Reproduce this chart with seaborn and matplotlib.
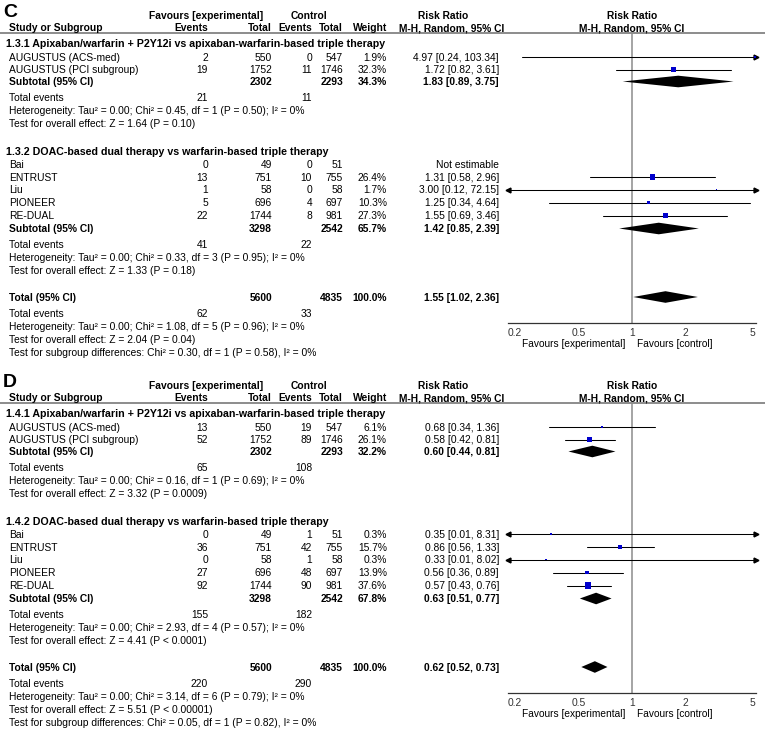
import numpy as np
import matplotlib
matplotlib.use("Agg")
import matplotlib.pyplot as plt
import seaborn as sns

# ---- data ----
studies = [["AUGUSTUS (ACS-med)", "AUGUSTUS (PCI subgroup)"],
           ["Bai", "ENTRUST", "Liu", "PIONEER", "RE-DUAL"]]

c_titles = ["1.3.1 Apixaban/warfarin + P2Y12i vs apixaban-warfarin-based triple therapy",
            "1.3.2 DOAC-based dual therapy vs warfarin-based triple therapy"]
c_exp_events = [2, 19, 0, 13, 1, 5, 22]
c_exp_total = [550, 1752, 49, 751, 58, 696, 1744]
c_ctl_events = [0, 11, 0, 10, 0, 4, 8]
c_ctl_total = [547, 1746, 51, 755, 58, 697, 981]
c_weight = [1.9, 32.3, None, 26.4, 1.7, 10.3, 27.3]
c_rr = [4.97, 1.72, None, 1.31, 3.00, 1.25, 1.55]
c_lo = [0.24, 0.82, None, 0.58, 0.12, 0.34, 0.69]
c_hi = [103.34, 3.61, None, 2.96, 72.15, 4.64, 3.46]
c_sub_exp_total = [2302, 3298]
c_sub_ctl_total = [2293, 2542]
c_sub_weight = [34.3, 65.7]
c_sub_rr = [1.83, 1.42]
c_sub_lo = [0.89, 0.85]
c_sub_hi = [3.75, 2.39]
c_sub_exp_events = [21, 41]
c_sub_ctl_events = [11, 22]
c_sub_het = ["Heterogeneity: Tau² = 0.00; Chi² = 0.45, df = 1 (P = 0.50); I² = 0%",
             "Heterogeneity: Tau² = 0.00; Chi² = 0.33, df = 3 (P = 0.95); I² = 0%"]
c_sub_z = ["Test for overall effect: Z = 1.64 (P = 0.10)",
           "Test for overall effect: Z = 1.33 (P = 0.18)"]
c_tot_n = [5600, 4835]
c_tot_events = [62, 33]
c_tot_est = [1.55, 1.02, 2.36]
c_tot_notes = ["Heterogeneity: Tau² = 0.00; Chi² = 1.08, df = 5 (P = 0.96); I² = 0%",
               "Test for overall effect: Z = 2.04 (P = 0.04)",
               "Test for subgroup differences: Chi² = 0.30, df = 1 (P = 0.58), I² = 0%"]

d_titles = ["1.4.1 Apixaban/warfarin + P2Y12i vs apixaban-warfarin-based triple therapy",
            "1.4.2 DOAC-based dual therapy vs warfarin-based triple therapy"]
d_exp_events = [13, 52, 0, 36, 0, 27, 92]
d_exp_total = [550, 1752, 49, 751, 58, 696, 1744]
d_ctl_events = [19, 89, 1, 42, 1, 48, 90]
d_ctl_total = [547, 1746, 51, 755, 58, 697, 981]
d_weight = [6.1, 26.1, 0.3, 15.7, 0.3, 13.9, 37.6]
d_rr = [0.68, 0.58, 0.35, 0.86, 0.33, 0.56, 0.57]
d_lo = [0.34, 0.42, 0.01, 0.56, 0.01, 0.36, 0.43]
d_hi = [1.36, 0.81, 8.31, 1.33, 8.02, 0.89, 0.76]
d_sub_exp_total = [2302, 3298]
d_sub_ctl_total = [2293, 2542]
d_sub_weight = [32.2, 67.8]
d_sub_rr = [0.60, 0.63]
d_sub_lo = [0.44, 0.51]
d_sub_hi = [0.81, 0.77]
d_sub_exp_events = [65, 155]
d_sub_ctl_events = [108, 182]
d_sub_het = ["Heterogeneity: Tau² = 0.00; Chi² = 0.16, df = 1 (P = 0.69); I² = 0%",
             "Heterogeneity: Tau² = 0.00; Chi² = 2.93, df = 4 (P = 0.57); I² = 0%"]
d_sub_z = ["Test for overall effect: Z = 3.32 (P = 0.0009)",
           "Test for overall effect: Z = 4.41 (P < 0.0001)"]
d_tot_n = [5600, 4835]
d_tot_events = [220, 290]
d_tot_est = [0.62, 0.52, 0.73]
d_tot_notes = ["Heterogeneity: Tau² = 0.00; Chi² = 3.14, df = 6 (P = 0.79); I² = 0%",
               "Test for overall effect: Z = 5.51 (P < 0.00001)",
               "Test for subgroup differences: Chi² = 0.05, df = 1 (P = 0.82), I² = 0%"]

xticks = [0.2, 0.5, 1, 2, 5]
xtick_labels = ["0.2", "0.5", "1", "2", "5"]

# ---- layout (pixels, top-down) ----
W, H = 765, 729
FS = 7.4
FS_HEAD = 7.65
COL_EXP_EV, COL_EXP_N, COL_CTL_EV, COL_CTL_N, COL_W, COL_RR = 208, 272, 312, 343, 387, 499
PLOT_L, PLOT_R = 507.7, 755.7
PANEL_OFFSETS = [0, 370]
GROUP_HEAD = [43, 151]
STUDY_ROWS = [[57, 69.5], [164, 177, 189.5, 202.5, 215.5]]
SUB_ROW = [81.5, 228.5]
SUB_EV = [97.5, 244]
SUB_HET = [110, 257]
SUB_Z = [123, 270]
TOT_ROW, TOT_EV, TOT_NOTES = 297, 313, [326, 339, 352]
AXIS_Y = 323
BLUE = "#0000CC"
GREY = "#8c8c8c"

sns.set_style("white")
plt.rcParams["font.family"] = ["Liberation Sans", "DejaVu Sans"]

fig = plt.figure(figsize=(W / 100, H / 100), dpi=100)
tx = fig.add_axes([0, 0, 1, 1])
tx.set_xlim(0, W)
tx.set_ylim(H, 0)
tx.axis("off")


def put(x, y, s, ha="left", bold=False, size=FS):
    # y is the visual centre of capital letters
    tx.text(x, y + size * 1.389 * 0.716 / 2, s, ha=ha, va="baseline",
            fontsize=size, fontweight="bold" if bold else "normal", color="black")


def panel(letter, off, titles, ee, en, ce, cn, wt, rr, lo, hi,
          s_en, s_cn, s_w, s_rr, s_lo, s_hi, s_ee, s_ce, s_het, s_z,
          t_n, t_ev, t_est, t_notes):
    put(3, 10 + off, letter, bold=True, size=14)
    put(206, 15 + off, "Favours [experimental]", ha="center", bold=True)
    put(309, 15 + off, "Control", ha="center", bold=True)
    put(443, 15 + off, "Risk Ratio", ha="center", bold=True)
    put(632, 15 + off, "Risk Ratio", ha="center", bold=True)
    put(9, 27.5 + off, "Study or Subgroup", bold=True)
    put(COL_EXP_EV, 27.5 + off, "Events", ha="right", bold=True)
    put(COL_EXP_N, 27.5 + off, "Total", ha="right", bold=True)
    put(COL_CTL_EV, 27.5 + off, "Events", ha="right", bold=True)
    put(COL_CTL_N, 27.5 + off, "Total", ha="right", bold=True)
    put(COL_W, 27.5 + off, "Weight", ha="right", bold=True)
    put(452, 27.5 + off, "M-H, Random, 95% CI", ha="center", bold=True)
    put(632, 27.5 + off, "M-H, Random, 95% CI", ha="center", bold=True)
    tx.plot([0, W], [33 + off, 33 + off], color=GREY, lw=1.4)

    # forest axes: x log scale, y in pixel rows
    ax = fig.add_axes([PLOT_L / W, 1 - (AXIS_Y + off) / H,
                       (PLOT_R - PLOT_L) / W, (AXIS_Y - 33) / H])
    ax.set_xscale("log")
    ax.set_xlim(0.2, 5)
    ax.set_ylim(AXIS_Y + off, 33 + off)
    ax.patch.set_alpha(0)
    for sp in ["top", "left", "right"]:
        ax.spines[sp].set_visible(False)
    ax.spines["bottom"].set_color("#333333")
    ax.spines["bottom"].set_linewidth(0.9)
    ax.set_yticks([])
    ax.set_xticks(xticks)
    ax.set_xticklabels(xtick_labels)
    ax.minorticks_off()
    ax.tick_params(axis="x", direction="inout", length=5, width=0.9, pad=1,
                   labelsize=FS, colors="#333333")
    ax.get_xticklabels()[0].set_ha("left")
    ax.get_xticklabels()[-1].set_ha("right")
    ax.axvline(1, color=GREY, lw=1.1, zorder=1)

    k = 0
    sq_x, sq_y, sq_s = [], [], []
    for g in range(2):
        put(6, GROUP_HEAD[g] + off, titles[g], bold=True, size=FS_HEAD)
        for j, name in enumerate(studies[g]):
            y = STUDY_ROWS[g][j] + off
            put(9, y, name)
            put(COL_EXP_EV, y, str(ee[k]), ha="right")
            put(COL_EXP_N, y, str(en[k]), ha="right")
            put(COL_CTL_EV, y, str(ce[k]), ha="right")
            put(COL_CTL_N, y, str(cn[k]), ha="right")
            if rr[k] is None:
                put(COL_RR, y, "Not estimable", ha="right")
            else:
                put(COL_W, y, f"{wt[k]:.1f}%", ha="right")
                put(COL_RR, y, f"{rr[k]:.2f} [{lo[k]:.2f}, {hi[k]:.2f}]", ha="right")
                a, b = max(lo[k], 0.2), min(hi[k], 5)
                ax.plot([a, b], [y, y], color="black", lw=0.75, zorder=2)
                if lo[k] < 0.2:
                    ax.plot([0.2], [y], marker="<", ms=3.5, color="black", clip_on=False)
                if hi[k] > 5:
                    ax.plot([5], [y], marker=">", ms=3.5, color="black", clip_on=False)
                sq_x.append(rr[k])
                sq_y.append(y)
                side_px = max(1.6, np.sqrt(wt[k]))
                sq_s.append((side_px * 0.72) ** 2)
            k += 1
        y = SUB_ROW[g] + off
        put(9, y, "Subtotal (95% CI)", bold=True)
        put(COL_EXP_N, y, str(s_en[g]), ha="right", bold=True)
        put(COL_CTL_N, y, str(s_cn[g]), ha="right", bold=True)
        put(COL_W, y, f"{s_w[g]:.1f}%", ha="right", bold=True)
        put(COL_RR, y, f"{s_rr[g]:.2f} [{s_lo[g]:.2f}, {s_hi[g]:.2f}]", ha="right", bold=True)
        ax.fill([s_lo[g], s_rr[g], s_hi[g], s_rr[g]], [y, y - 5.8, y, y + 5.8],
                color="black", lw=0, zorder=3)
        put(9, SUB_EV[g] + off, "Total events")
        put(COL_EXP_EV, SUB_EV[g] + off, str(s_ee[g]), ha="right")
        put(COL_CTL_EV, SUB_EV[g] + off, str(s_ce[g]), ha="right")
        put(9, SUB_HET[g] + off, s_het[g])
        put(9, SUB_Z[g] + off, s_z[g])

    sns.scatterplot(x=sq_x, y=sq_y, s=sq_s, marker="s", color=BLUE, linewidth=0,
                    ax=ax, zorder=4, clip_on=False, legend=False)

    y = TOT_ROW + off
    put(9, y, "Total (95% CI)", bold=True)
    put(COL_EXP_N, y, str(t_n[0]), ha="right", bold=True)
    put(COL_CTL_N, y, str(t_n[1]), ha="right", bold=True)
    put(COL_W, y, "100.0%", ha="right", bold=True)
    put(COL_RR, y, f"{t_est[0]:.2f} [{t_est[1]:.2f}, {t_est[2]:.2f}]", ha="right", bold=True)
    ax.fill([t_est[1], t_est[0], t_est[2], t_est[0]], [y, y - 5.8, y, y + 5.8],
            color="black", lw=0, zorder=3)
    put(9, TOT_EV + off, "Total events")
    put(COL_EXP_EV, TOT_EV + off, str(t_ev[0]), ha="right")
    put(COL_CTL_EV, TOT_EV + off, str(t_ev[1]), ha="right")
    for yy, note in zip(TOT_NOTES, t_notes):
        put(9, yy + off, note)

    put(625, 343 + off, "Favours [experimental]", ha="right", size=7.3)
    put(637, 343 + off, "Favours [control]", size=7.3)


panel("C", PANEL_OFFSETS[0], c_titles, c_exp_events, c_exp_total, c_ctl_events, c_ctl_total,
      c_weight, c_rr, c_lo, c_hi, c_sub_exp_total, c_sub_ctl_total, c_sub_weight,
      c_sub_rr, c_sub_lo, c_sub_hi, c_sub_exp_events, c_sub_ctl_events, c_sub_het, c_sub_z,
      c_tot_n, c_tot_events, c_tot_est, c_tot_notes)
panel("D", PANEL_OFFSETS[1], d_titles, d_exp_events, d_exp_total, d_ctl_events, d_ctl_total,
      d_weight, d_rr, d_lo, d_hi, d_sub_exp_total, d_sub_ctl_total, d_sub_weight,
      d_sub_rr, d_sub_lo, d_sub_hi, d_sub_exp_events, d_sub_ctl_events, d_sub_het, d_sub_z,
      d_tot_n, d_tot_events, d_tot_est, d_tot_notes)

fig.savefig("out.png", dpi=100)
